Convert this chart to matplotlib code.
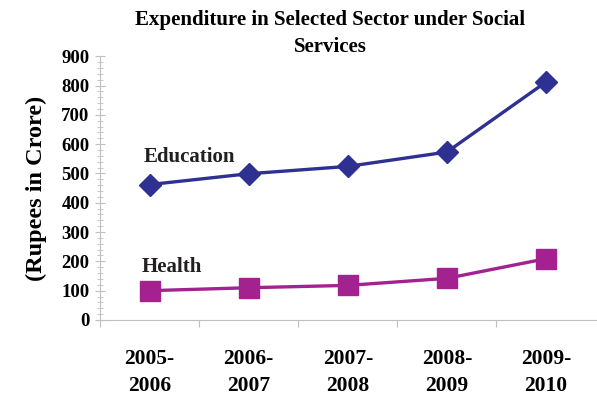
import matplotlib

matplotlib.use("Agg")
import matplotlib.pyplot as plt
from matplotlib.ticker import MultipleLocator

# Expenditure (Rs crore) per fiscal year
years = ["2005-\n2006", "2006-\n2007", "2007-\n2008", "2008-\n2009", "2009-\n2010"]
education = [462, 499, 524, 573, 812]
health = [100, 110, 118, 142, 209]

NAVY = "#2e3192"
PURPLE = "#a3228f"
AXIS = "#bfbfbf"

plt.rcParams["font.family"] = "Liberation Serif"
plt.rcParams["font.weight"] = "bold"

fig = plt.figure(figsize=(5.97, 3.96), dpi=100)
ax = fig.add_axes([0.1675, 0.192, 0.83, 0.666])

xs = [i + 0.5 for i in range(len(years))]
ax.plot(xs, education, color=NAVY, linewidth=2.4, marker="D", markersize=11)
ax.plot(xs, health, color=PURPLE, linewidth=2.4, marker="s", markersize=14)

ax.text(0.44, 540, "Education", fontsize=15, fontweight="bold", color="#231f20")
ax.text(0.42, 165, "Health", fontsize=15, fontweight="bold", color="#231f20")

ax.set_xlim(0, 5)
ax.set_ylim(0, 900)
ax.yaxis.set_major_locator(MultipleLocator(100))
ax.yaxis.set_minor_locator(MultipleLocator(20))
ax.set_xticks(range(5))
ax.set_xticks(xs, minor=True)
ax.set_xticklabels([])
ax.set_xticklabels(years, minor=True, fontsize=15.5, fontweight="bold", linespacing=1.45)
ax.tick_params(axis="x", which="minor", length=0, pad=21)
ax.tick_params(axis="x", which="major", length=5, color=AXIS)
ax.tick_params(axis="y", which="major", direction="inout", length=7, color=AXIS,
               labelsize=13.5, pad=4)
ax.tick_params(axis="y", which="minor", direction="inout", length=4, color=AXIS)

for side in ("top", "right"):
    ax.spines[side].set_visible(False)
for side in ("left", "bottom"):
    ax.spines[side].set_color(AXIS)

ax.set_ylabel("(Rupees in Crore)", fontsize=17.5, fontweight="bold", labelpad=10)
fig.text(0.553, 0.975, "Expenditure in Selected Sector under Social\nServices",
         ha="center", va="top", fontsize=15, fontweight="bold", linespacing=1.45)

fig.savefig("out.png", dpi=100)
